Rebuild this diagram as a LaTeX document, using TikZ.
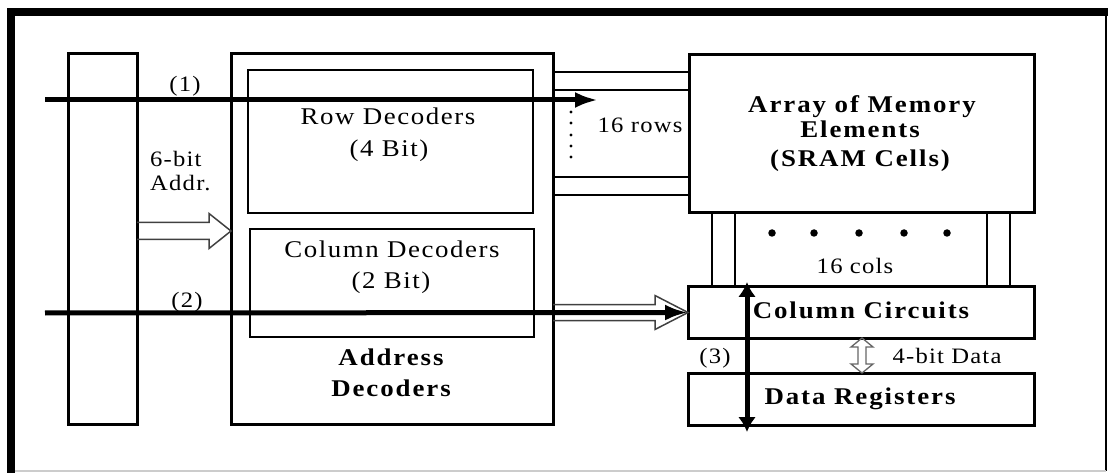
\documentclass[tikz,border=0pt]{standalone}
\usepackage{fontspec}
\setmainfont{Liberation Serif}
\newfontfamily\lblfont{Liberation Serif}[LetterSpace=5.5,FakeStretch=1.12]
\newfontfamily\decfont{Liberation Serif}[LetterSpace=6.5,FakeStretch=1.12]
\newfontfamily\bldfont{Liberation Serif}[LetterSpace=8,FakeStretch=1.12]
\usetikzlibrary{arrows.meta,calc}

\begin{document}
\begin{tikzpicture}[x=1pt,y=-1pt,
  box/.style={draw, line width=3pt, inner sep=0pt, outer sep=0pt},
  subbox/.style={draw, line width=2pt, inner sep=0pt, outer sep=0pt},
  lbl/.style={anchor=base, inner sep=0pt, font=\lblfont\fontsize{22}{26}\selectfont},
  dec/.style={anchor=base, inner sep=0pt, font=\decfont\fontsize{24}{28}\selectfont},
  bld/.style={anchor=base, inner sep=0pt, font=\bldfont\bfseries\fontsize{24}{28}\selectfont},
  wire/.style={line width=2.5pt},
  bigarrow/.style={line width=5pt, -{Latex[length=23pt,width=16pt]}},
  dblarrow/.style={line width=5pt, {Latex[length=15pt,width=18pt]}-{Latex[length=15pt,width=18pt]}},
  hollow/.style={draw=black!75, line width=1.5pt, line join=miter},
  hollowthin/.style={draw=black!60, line width=1.3pt, line join=miter},
  bigdot/.style={circle, fill=black, inner sep=0pt, minimum size=7.5pt},
  smalldot/.style={circle, fill=black, inner sep=0pt, minimum size=3.2pt},
]
\useasboundingbox (0,0) rectangle (1109,473);
% frame
\fill[black] (7,8) rectangle (1108,16);
\fill[black] (7,8) rectangle (15,473);
\draw[line width=1.8pt] (1106,16) -- (1106,471);
\draw[line width=1.5pt, black!20] (15,471) -- (1106,471);

% boxes
\node[box, minimum width=69pt, minimum height=370pt] (bus) at (102.5,239) {};
\node[box, minimum width=322pt, minimum height=370pt] (addr) at (392,239) {};
\node[subbox, minimum width=285pt, minimum height=143pt] (rowdec) at (390.5,141.5) {};
\node[subbox, minimum width=284pt, minimum height=108pt] (coldec) at (392,283) {};
\node[box, minimum width=345pt, minimum height=158pt] (array) at (861.5,134) {};
\node[box, minimum width=346pt, minimum height=51pt] (colcirc) at (861,312.5) {};
\node[box, minimum width=346pt, minimum height=52pt] (datareg) at (861,399) {};

% texts
\node[dec] (rd1) at (388,125) {Row Decoders};
\node[dec] (rd2) at (389,157) {(4 Bit)};
\node[dec] (cd1) at (392,258) {Column Decoders};
\node[dec] (cd2) at (391,289) {(2 Bit)};
\node[bld] (ad1) at (391,365) {Address};
\node[bld] (ad2) at (391,396) {Decoders};
\node[bld] (ar1) at (862,113) {Array of Memory};
\node[bld] (ar2) at (860,138) {Elements};
\node[bld] (ar3) at (860,167) {(SRAM Cells)};
\node[bld] (cct) at (861,319) {Column Circuits};
\node[bld] (drt) at (860,404) {Data Registers};
\node[lbl] (l1) at (185,92) {(1)};
\node[lbl] (l2) at (187,307) {(2)};
\node[lbl] (l3) at (715,363) {(3)};
\node[lbl, anchor=base west] (l6) at (150,167) {6-bit};
\node[lbl, anchor=base west] (laddr) at (150,191) {Addr.};
\node[lbl] (lrows) at (640,133) {16 rows};
\node[lbl] (lcols) at (855,273) {16 cols};
\node[lbl] (ldata) at (947,363) {4-bit Data};

% row wires
\foreach \y [count=\i] in {72,90,177,195} {
  \coordinate (r\i) at (0,\y);
  \draw[wire] (addr.east |- r\i) -- (array.west |- r\i);
}
% column wires
\foreach \x [count=\i] in {712,735,987,1010} {
  \coordinate (c\i) at (\x,0);
  \draw[wire] (array.south -| c\i) -- (colcirc.north -| c\i);
}
% dots
\foreach \y [count=\i] in {112,123,135,146,157}
  \node[smalldot] (rdot\i) at (571,\y) {};
\foreach \x [count=\i] in {772,814,859,904,947}
  \node[bigdot] (cdot\i) at (\x,233) {};

% hollow arrow 6-bit address
\coordinate (h1s) at ($(bus.east)+(0,-8)$);
\coordinate (h1e) at (addr.west |- h1s);
\draw[hollow] ($(h1s)+(0,-8.5)$) -- ($(h1e)+(-22,-8.5)$) -- ($(h1e)+(-22,-17.5)$)
  -- (h1e) -- ($(h1e)+(-22,17.5)$) -- ($(h1e)+(-22,8.5)$) -- ($(h1s)+(0,8.5)$);

% hollow arrow to column circuits
\coordinate (h2s) at (addr.east |- colcirc.west);
\draw[hollow] ($(h2s)+(0,-8)$) -- ($(colcirc.west)+(-33,-8)$) -- ($(colcirc.west)+(-33,-17)$)
  -- (colcirc.west) -- ($(colcirc.west)+(-33,17)$) -- ($(colcirc.west)+(-33,8)$) -- ($(h2s)+(0,8)$);

% 4-bit data double hollow arrow
\coordinate (dx) at (862,0);
\coordinate (dt) at (colcirc.south -| dx);
\coordinate (db) at (datareg.north -| dx);
\draw[hollowthin] (dt) -- ($(dt)+(11,9)$) -- ($(dt)+(4,9)$) -- ($(db)+(4,-9)$) -- ($(db)+(11,-9)$)
  -- (db) -- ($(db)+(-11,-9)$) -- ($(db)+(-4,-9)$) -- ($(dt)+(-4,9)$) -- ($(dt)+(-11,9)$) -- cycle;

% thick arrows
\coordinate (a1s) at (45,100);
\coordinate (a1e) at (598,100);
\draw[bigarrow] (a1s) -- (a1e);
\coordinate (a2s) at (45,313);
\draw[bigarrow] (a2s) -- (colcirc.west);
\coordinate (a3b) at (747,432);
\coordinate (a3t) at (747,282);
\draw[dblarrow] (a3b) -- (a3t);
\end{tikzpicture}
\end{document}
